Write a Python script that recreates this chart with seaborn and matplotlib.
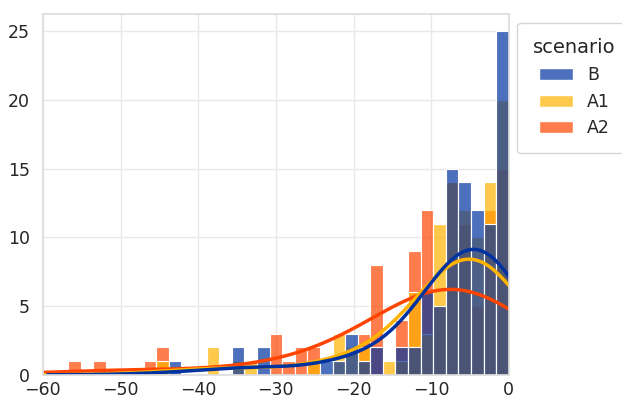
import numpy as np
import matplotlib
matplotlib.use("Agg")
import matplotlib.pyplot as plt
from matplotlib.colors import to_rgba
from matplotlib.patches import Patch
import seaborn as sns

# 37 equal-width bins covering the [-60, 0] range
bin_edges = np.linspace(-60, 0, 38)
bin_centers = (bin_edges[:-1] + bin_edges[1:]) / 2

scenarios = ["B", "A1", "A2"]

# Observations per bin, left to right
counts_B = [0, 0, 0, 0, 0, 0, 0, 0, 0, 0,
            1, 0, 0, 0, 0, 2, 0, 2, 0, 0,
            0, 0, 1, 1, 3, 1, 2, 0, 2, 2,
            6, 5, 15, 14, 12, 11, 25]
counts_A1 = [0, 0, 0, 0, 0, 0, 0, 0, 0, 1,
             0, 0, 0, 2, 0, 1, 1, 0, 0, 0,
             0, 1, 0, 3, 2, 2, 0, 1, 1, 6,
             3, 11, 14, 12, 10, 14, 20]
counts_A2 = [0, 0, 1, 0, 1, 0, 0, 0, 1, 2,
             0, 0, 0, 0, 0, 0, 0, 0, 3, 1,
             2, 2, 0, 0, 0, 3, 8, 0, 4, 9,
             12, 5, 14, 11, 5, 12, 15]
counts = {"B": counts_B, "A1": counts_A1, "A2": counts_A2}

colors = {"B": "#0033a0", "A1": "#ffb300", "A2": "#ff4500"}
smoothing = {"B": 1.7, "A1": 1.75, "A2": 2.05}
bar_alpha = 0.7

sns.set_theme(style="whitegrid", context="notebook")
plt.rcParams.update({
    "grid.color": "#e8e8e8",
    "axes.edgecolor": "#dddddd",
    "xtick.labelsize": 12.5,
    "ytick.labelsize": 12.5,
})

fig, ax = plt.subplots(figsize=(6.22, 4.03), dpi=100)
fig.subplots_adjust(left=0.069, right=0.818, top=0.965, bottom=0.07)

# Layered histograms: the last scenario is drawn first so "B" sits on top
for name in reversed(scenarios):
    values = np.repeat(bin_centers, counts[name])
    sns.histplot(
        x=values, bins=list(bin_edges), kde=True,
        kde_kws=dict(bw_adjust=smoothing[name], cut=3, clip=(-60, 0)),
        line_kws=dict(linewidth=2.5),
        color=colors[name], alpha=bar_alpha, ax=ax,
    )

ax.set_xlim(-60, 0)
ax.set_xlabel("")
ax.set_ylabel("")
ax.tick_params(axis="x", length=0, pad=4.5)
for side in ["top", "right", "left", "bottom"]:
    ax.spines[side].set_visible(True)
    ax.spines[side].set_color("#dddddd")

handles = [
    Patch(facecolor=to_rgba(colors[s], bar_alpha), edgecolor="white", label=s)
    for s in scenarios
]
ax.legend(handles=handles, title="scenario", loc="upper left",
          bbox_to_anchor=(1, 1), fontsize=12.5, title_fontsize=14,
          borderpad=0.9)

fig.savefig("out.png", dpi=100)
